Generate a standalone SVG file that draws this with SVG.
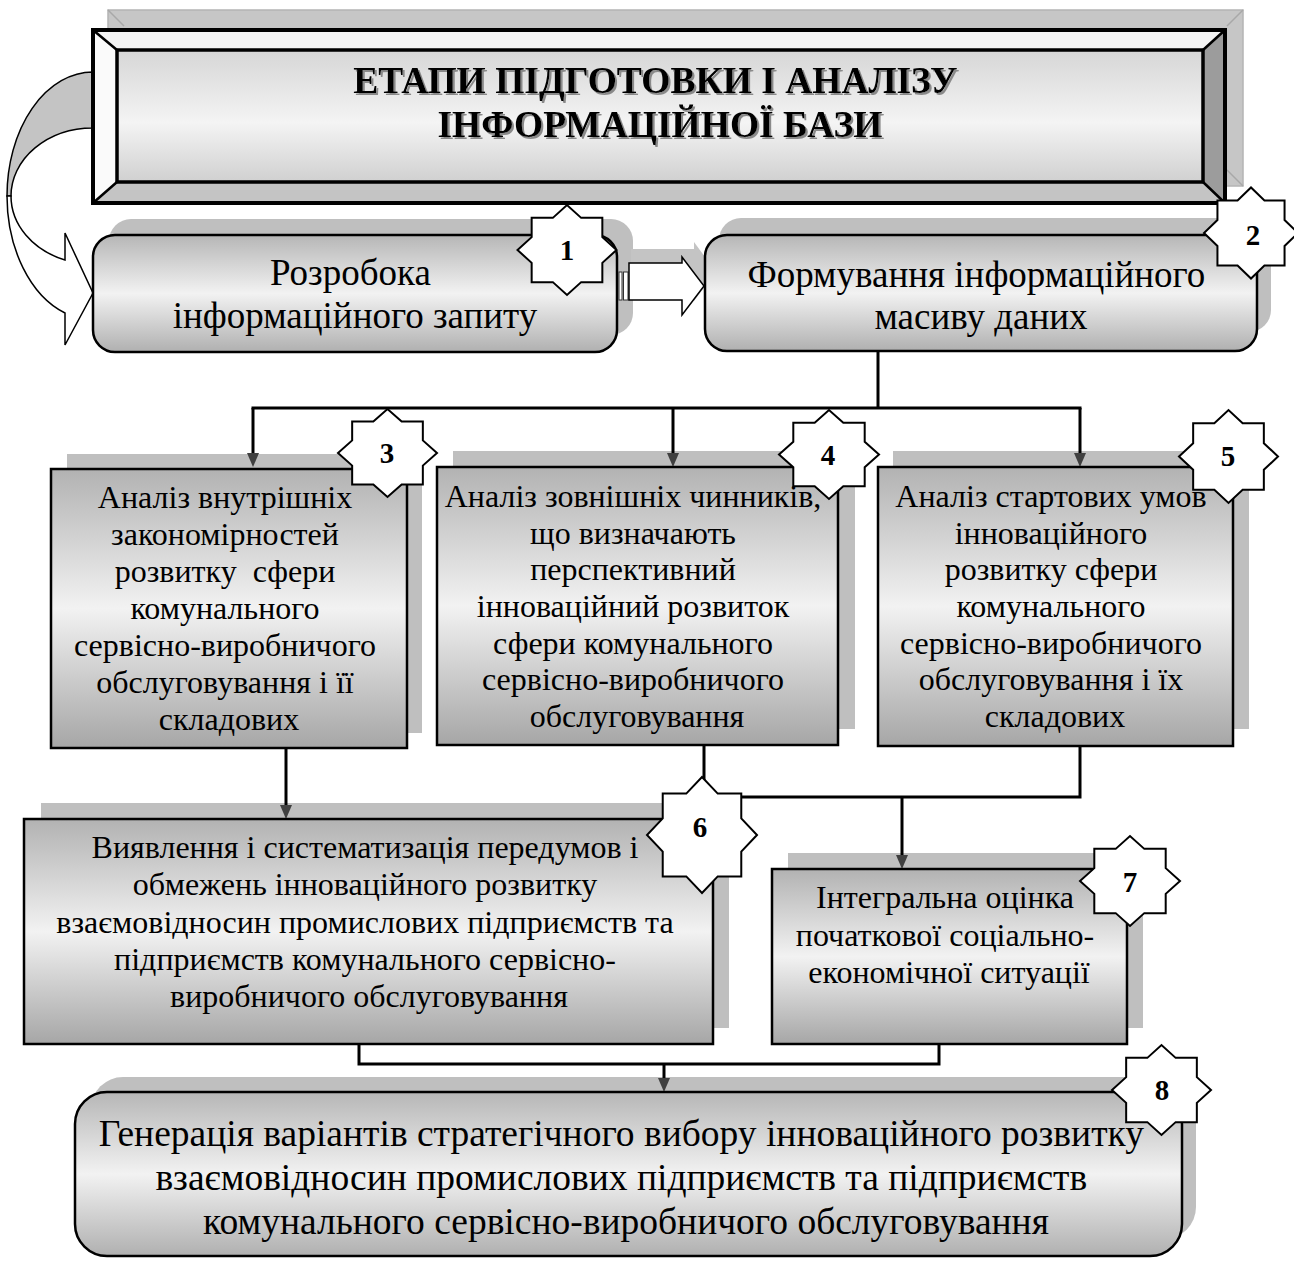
<svg xmlns="http://www.w3.org/2000/svg" xmlns:xlink="http://www.w3.org/1999/xlink" width="1294" height="1261" viewBox="0 0 1294 1261">
  <defs>
    <style>
      .t { font-family: "Liberation Serif", "Times New Roman", serif; fill: #000; text-anchor: middle; }
      .s32 { font-size: 32px; }
      .s37 { font-size: 37px; }
      .s38 { font-size: 37.5px; }
      .head { font-size: 37.5px; font-weight: bold; }
      .lbl { font-size: 29px; font-weight: bold; }
      .box { stroke: #000; stroke-width: 2.5; }
      .shadow { fill: #bfbfbf; }
      .conn { fill: none; stroke: #000; stroke-width: 3; }
      .star { fill: #fff; stroke: #000; stroke-width: 2; }
    </style>
    <linearGradient id="gBox" x1="0" y1="0" x2="0" y2="1">
      <stop offset="0" stop-color="#b2b2b2"/>
      <stop offset="0.5" stop-color="#f2f2f2"/>
      <stop offset="1" stop-color="#a6a6a6"/>
    </linearGradient>
    <linearGradient id="gRound" x1="0" y1="0" x2="0" y2="1">
      <stop offset="0" stop-color="#b6b6b6"/>
      <stop offset="0.5" stop-color="#f2f2f2"/>
      <stop offset="1" stop-color="#b0b0b0"/>
    </linearGradient>
    <linearGradient id="gTitle" x1="0" y1="0" x2="0" y2="1">
      <stop offset="0" stop-color="#d6d6d6"/>
      <stop offset="0.55" stop-color="#f4f4f4"/>
      <stop offset="1" stop-color="#d0d0d0"/>
    </linearGradient>
    <filter id="textShadow" x="-5%" y="-20%" width="110%" height="140%">
      <feDropShadow dx="2" dy="2" stdDeviation="0.6" flood-color="#8a8a8a" flood-opacity="1"/>
    </filter>
    <marker id="arrow" markerUnits="userSpaceOnUse" markerWidth="14" markerHeight="12" refX="4" refY="6" orient="auto">
      <path d="M0,0 L14,6 L0,12 Z" fill="#404040"/>
    </marker>
    <!-- eight-point badge: union of a square and a diamond -->
    <path id="star8" class="star" vector-effect="non-scaling-stroke"
          d="M50,0 L35.7,14.3 L35.7,35.7 L14.3,35.7 L0,50 L-14.3,35.7 L-35.7,35.7 L-35.7,14.3 L-50,0 L-35.7,-14.3 L-35.7,-35.7 L-14.3,-35.7 L0,-50 L14.3,-35.7 L35.7,-35.7 L35.7,-14.3 Z"/>
  </defs>

  <rect width="1294" height="1261" fill="#fff"/>

  <!-- drop shadows behind the boxes -->
  <g id="shadows">
    <rect x="108" y="10" width="1135" height="176" fill="#c6c6c6" stroke="#b4b4b4" stroke-width="1.5"/>
    <path d="M108,10 L124,26 M1243,10 L1227,26 M1243,186 L1227,170" stroke="#a8a8a8" stroke-width="1.5" fill="none"/>
    <rect class="shadow" x="109" y="219" width="524" height="116" rx="22"/>
    <rect class="shadow" x="719" y="218" width="552" height="114" rx="22"/>
    <rect class="shadow" x="67" y="454" width="355" height="279"/>
    <rect class="shadow" x="453" y="451" width="402" height="278"/>
    <rect class="shadow" x="893" y="451" width="356" height="278"/>
    <rect class="shadow" x="41" y="803" width="688" height="225"/>
    <rect class="shadow" x="788" y="853" width="355" height="175"/>
    <rect class="shadow" x="91" y="1077" width="1105" height="162" rx="32"/>
  </g>

  <!-- connectors -->
  <g id="connectors">
    <!-- curved loop from the heading back into step 1 -->
    <path d="M93,72 A86,124 0 0 0 7,196 L11,196 A82,68 0 0 1 93,128 Z" fill="#c4c4c4" stroke="#000" stroke-width="1.5"/>
    <path d="M7,196 A86,124 0 0 0 65,313 L65,345 L93,293 L65,233 L65,260 A82,68 0 0 1 11,196 Z" fill="#fff" stroke="#000" stroke-width="1.5"/>

    <!-- striped block arrow from step 1 to step 2 -->
    <path d="M631,249 L694,249 L694,242 L716,272 L694,301 L694,286 L631,286 Z" fill="#c4c4c4"/>
    <rect x="619" y="272" width="3" height="28" fill="#fff" stroke="#333" stroke-width="1"/>
    <rect x="623.5" y="272" width="4.5" height="28" fill="#fff" stroke="#333" stroke-width="1"/>
    <path d="M629,263 L682,263 L682,257 L704,286 L682,315 L682,300 L629,300 Z" fill="#fff" stroke="#000" stroke-width="1.5"/>

    <!-- step 2 to steps 3, 4, 5 -->
    <path class="conn" d="M878,351 V408"/>
    <path class="conn" d="M251.5,408 H1081.5"/>
    <path class="conn" d="M253,408 V457" marker-end="url(#arrow)"/>
    <path class="conn" d="M673,408 V457" marker-end="url(#arrow)"/>
    <path class="conn" d="M1080,408 V457" marker-end="url(#arrow)"/>

    <!-- step 3 to step 6 -->
    <path class="conn" d="M286,748 V809" marker-end="url(#arrow)"/>

    <!-- steps 4 and 5 to step 7 -->
    <path class="conn" d="M704,745 V797 H1080 V746"/>
    <path class="conn" d="M902,797 V859" marker-end="url(#arrow)"/>

    <!-- steps 6 and 7 to step 8 -->
    <path class="conn" d="M359,1044 V1064 H939 V1044"/>
    <path class="conn" d="M664,1064 V1082" marker-end="url(#arrow)"/>
  </g>

  <!-- heading plate with bevelled frame -->
  <g id="title">
    <polygon points="93,30 1225,30 1203,50 117,50" fill="#f4f4f4"/>
    <polygon points="93,30 117,50 117,182 93,203" fill="#fafafa"/>
    <polygon points="93,203 117,182 1203,182 1225,203" fill="#c4c4c4"/>
    <polygon points="1225,30 1225,203 1203,182 1203,50" fill="#9c9c9c"/>
    <rect x="117" y="50" width="1086" height="132" fill="url(#gTitle)" stroke="#000" stroke-width="3.5"/>
    <rect x="93" y="30" width="1132" height="173" fill="none" stroke="#000" stroke-width="4"/>
    <path d="M93,30 L117,50 M1225,30 L1203,50 M93,203 L117,182 M1225,203 L1203,182" stroke="#000" stroke-width="2.5"/>
    <text class="t head" filter="url(#textShadow)">
      <tspan x="660" y="93">ЕТАПИ ПІДГОТОВКИ І АНАЛІЗУ</tspan>
      <tspan x="660" y="137">ІНФОРМАЦІЙНОЇ БАЗИ</tspan>
    </text>
  </g>

  <g id="step1">
    <rect class="box" x="93" y="235" width="524" height="117" rx="22" fill="url(#gRound)"/>
    <text class="t s37">
      <tspan x="355" y="285">Розробока</tspan>
      <tspan x="355" y="328">інформаційного запиту</tspan>
    </text>
    <use xlink:href="#star8" transform="translate(567,250) scale(0.99,0.9)"/>
    <text class="t lbl" x="567" y="260">1</text>
  </g>

  <g id="step2">
    <rect class="box" x="705" y="235" width="552" height="116" rx="22" fill="url(#gRound)"/>
    <text class="t s37">
      <tspan x="981" y="287">Формування інформаційного</tspan>
      <tspan x="981" y="329">масиву даних</tspan>
    </text>
    <use xlink:href="#star8" transform="translate(1251,233) scale(0.94,0.91)"/>
    <text class="t lbl" x="1253" y="245">2</text>
  </g>

  <g id="step3">
    <rect class="box" x="51" y="469" width="356" height="279" fill="url(#gBox)"/>
    <text class="t s32">
      <tspan x="229" y="508">Аналіз внутрішніх</tspan>
      <tspan x="229" y="545">закономірностей</tspan>
      <tspan x="229" y="582" style="white-space:pre">розвитку  сфери</tspan>
      <tspan x="229" y="619">комунального</tspan>
      <tspan x="229" y="656">сервісно-виробничого</tspan>
      <tspan x="229" y="693">обслуговування і її</tspan>
      <tspan x="229" y="730">складових</tspan>
    </text>
    <use xlink:href="#star8" transform="translate(387.5,453) scale(0.99,0.88)"/>
    <text class="t lbl" x="387" y="463">3</text>
  </g>

  <g id="step4">
    <rect class="box" x="437" y="467" width="401" height="278" fill="url(#gBox)"/>
    <text class="t s32">
      <tspan x="637" y="507">Аналіз зовнішніх чинників,</tspan>
      <tspan x="637" y="544">що визначають</tspan>
      <tspan x="637" y="580">перспективний</tspan>
      <tspan x="637" y="617">інноваційний розвиток</tspan>
      <tspan x="637" y="654">сфери комунального</tspan>
      <tspan x="637" y="690">сервісно-виробничого</tspan>
      <tspan x="637" y="727">обслуговування</tspan>
    </text>
    <use xlink:href="#star8" transform="translate(829,454.5) scale(1,0.89)"/>
    <text class="t lbl" x="828" y="465">4</text>
  </g>

  <g id="step5">
    <rect class="box" x="878" y="467" width="355" height="279" fill="url(#gBox)"/>
    <text class="t s32">
      <tspan x="1055" y="507">Аналіз стартових умов</tspan>
      <tspan x="1055" y="544">інноваційного</tspan>
      <tspan x="1055" y="580">розвитку сфери</tspan>
      <tspan x="1055" y="617">комунального</tspan>
      <tspan x="1055" y="654">сервісно-виробничого</tspan>
      <tspan x="1055" y="690">обслуговування і їх</tspan>
      <tspan x="1055" y="727">складових</tspan>
    </text>
    <use xlink:href="#star8" transform="translate(1228.5,456.5) scale(0.99,0.93)"/>
    <text class="t lbl" x="1228" y="466">5</text>
  </g>

  <g id="step6">
    <rect class="box" x="24" y="819" width="689" height="225" fill="url(#gBox)"/>
    <text class="t s32">
      <tspan x="369" y="858">Виявлення і систематизація передумов і</tspan>
      <tspan x="369" y="895">обмежень інноваційного розвитку</tspan>
      <tspan x="369" y="933">взаємовідносин промислових підприємств та</tspan>
      <tspan x="369" y="970">підприємств комунального сервісно-</tspan>
      <tspan x="369" y="1007">виробничого обслуговування</tspan>
    </text>
    <use xlink:href="#star8" transform="translate(702,835) scale(1.1,1.16)"/>
    <text class="t lbl" x="700" y="837">6</text>
  </g>

  <g id="step7">
    <rect class="box" x="772" y="869" width="355" height="175" fill="url(#gBox)"/>
    <text class="t s32">
      <tspan x="949" y="908">Інтегральна оцінка</tspan>
      <tspan x="949" y="946">початкової соціально-</tspan>
      <tspan x="949" y="983">економічної ситуації</tspan>
    </text>
    <use xlink:href="#star8" transform="translate(1130,881) scale(1,0.9)"/>
    <text class="t lbl" x="1130" y="892">7</text>
  </g>

  <g id="step8">
    <rect class="box" x="75" y="1092" width="1107" height="164" rx="32" fill="url(#gRound)"/>
    <text class="t s38">
      <tspan x="626" y="1146">Генерація варіантів стратегічного вибору інноваційного розвитку</tspan>
      <tspan x="626" y="1190">взаємовідносин промислових підприємств та підприємств</tspan>
      <tspan x="626" y="1234">комунального сервісно-виробничого обслуговування</tspan>
    </text>
    <use xlink:href="#star8" transform="translate(1161.5,1090) scale(0.99,0.9)"/>
    <text class="t lbl" x="1162" y="1100">8</text>
  </g>
</svg>
